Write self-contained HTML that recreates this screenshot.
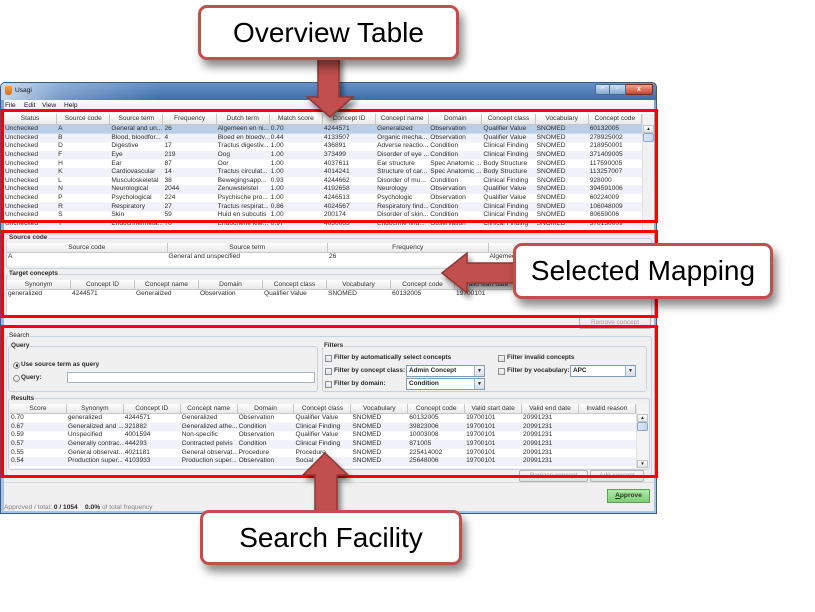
<!DOCTYPE html>
<html><head><meta charset="utf-8">
<style>
*{margin:0;padding:0;box-sizing:border-box}
html,body{width:815px;height:612px;overflow:hidden;background:#fff;font-family:"Liberation Sans",Arial,sans-serif}
.a{position:absolute}
.g{display:grid;position:absolute;overflow:hidden;grid-auto-rows:8.63px}
.g span{font-size:6.6px;line-height:8.63px;padding-left:1px;white-space:nowrap;overflow:hidden;color:#2e2e2e}
.h{display:grid;position:absolute;background:linear-gradient(#fdfdfd,#e9e9e9);border-bottom:1px solid #c8c8c8;overflow:hidden}
.h span{font-size:6.6px;line-height:10px;text-align:center;border-right:1px solid #c6c6c6;white-space:nowrap;overflow:hidden;color:#333}
.red{position:absolute;border:3px solid #f00}
.co{position:absolute;background:#fff;border:3px solid #c0504d;border-radius:9px;box-shadow:4px 7px 9px rgba(0,0,0,.45);text-align:center;font-size:28px;line-height:50px;color:#000;white-space:nowrap}
.lb{position:absolute;font-size:6.4px;font-weight:bold;color:#2a2a2a;line-height:8px;white-space:nowrap}
.gl{background:#f0f0f0;padding:0 1px}
.cb{position:absolute;width:7px;height:7px;border:1px solid #8e8f8f;background:linear-gradient(#f6f6f6,#dfe3e8)}
.rb{position:absolute;width:7px;height:7px;border:1px solid #8e8f8f;border-radius:50%;background:linear-gradient(#f8f8f8,#dde2e7)}
.gb{position:absolute;border:1px solid #c9d1db;border-radius:3px}
.combo{position:absolute;background:#fff;border:1px solid #7f9db9;font-size:6.4px;font-weight:bold;line-height:10px;padding-left:2px;color:#222;white-space:nowrap}
.combo i{position:absolute;right:0;top:0;width:10px;height:10px;background:linear-gradient(#f4f6f9,#d8dee6);border-left:1px solid #a8b8c8;font-style:normal;font-size:5px;line-height:10px;text-align:center;color:#222}
.btn{position:absolute;border:1px solid #b3b3b3;background:linear-gradient(#f7f7f7,#e1e1e1);font-size:6.4px;line-height:10px;text-align:center;color:#a0a0a0;white-space:nowrap;border-radius:2px}
.sb{position:absolute;background:#f1f1f1;border-left:1px solid #e0e0e0}
.sb .ar{position:absolute;left:0;width:11px;height:8px;background:linear-gradient(#fafafa,#e4e4e4);border:1px solid #c4c4c4;font-size:4.5px;line-height:6px;text-align:center;color:#222}
.sb .th{position:absolute;left:0;width:11px;height:9px;background:linear-gradient(to right,#dbe8f6,#c2d6ee);border:1px solid #8aa6c8;border-radius:2px}
</style></head><body>

<!-- Window frame -->
<div class="a" style="left:0;top:82px;width:657px;height:432px;background:linear-gradient(to bottom,#5a89c3 0,#7ea6d6 20px,#a8c6e8 100%);border:1px solid #3a5b82;border-radius:5px 5px 0 0"></div>
<div class="a" style="left:1px;top:83px;width:655px;height:17px;border-radius:4px 4px 0 0;background:linear-gradient(to right,rgba(220,234,248,.85) 0,rgba(220,234,248,.35) 60px,rgba(220,234,248,0) 160px),linear-gradient(#6592c9,#3f6ca7)"></div>
<div class="a" style="left:5px;top:86px;width:7px;height:9px;background:linear-gradient(#f7a43a,#d8691a);border-radius:1px 1px 3px 3px"></div>
<div class="a" style="left:15px;top:87px;font-size:6.6px;line-height:8px;color:#111">Usagi</div>
<div class="a" style="left:595px;top:84px;width:15px;height:11px;background:linear-gradient(#cfe0f2,#86a9d3);border:1px solid #47678e;border-radius:0 0 0 3px;font-size:7px;line-height:8px;text-align:center;color:#fff;font-weight:bold">–</div>
<div class="a" style="left:610px;top:84px;width:16px;height:11px;background:linear-gradient(#cfe0f2,#86a9d3);border:1px solid #47678e;border-left:0;font-size:6px;line-height:9px;text-align:center;color:#fff">▫</div>
<div class="a" style="left:626px;top:84px;width:27px;height:11px;background:linear-gradient(#eba493,#c8452f);border:1px solid #7a2a1e;border-left:0;border-radius:0 0 3px 0;font-size:7px;line-height:9px;text-align:center;color:#fff;font-weight:bold">x</div>

<!-- Client area -->
<div class="a" style="left:4px;top:100px;width:650px;height:411px;background:#f0f0f0"></div>
<div class="a" style="left:4px;top:100px;width:650px;height:10px;background:linear-gradient(#fbfbfc,#eceff3)"></div>
<div class="a" style="left:5px;top:102px;font-size:6.6px;line-height:8px;color:#111;word-spacing:0">File</div>
<div class="a" style="left:24px;top:102px;font-size:6.6px;line-height:8px;color:#111">Edit</div>
<div class="a" style="left:42px;top:102px;font-size:6.6px;line-height:8px;color:#111">View</div>
<div class="a" style="left:64px;top:102px;font-size:6.6px;line-height:8px;color:#111">Help</div>

<!-- Overview table -->
<div class="a" style="left:4px;top:112px;width:650px;height:118px;background:#fff"></div>
<div class="h" style="left:4px;top:114px;width:638px;height:11px;grid-template-columns:repeat(12,53.17px)">
<span>Status</span><span>Source code</span><span>Source term</span><span>Frequency</span><span>Dutch term</span><span>Match score</span><span>Concept ID</span><span>Concept name</span><span>Domain</span><span>Concept class</span><span>Vocabulary</span><span>Concept code</span>
</div>
<div class="g" style="left:4px;top:125px;width:638px;height:105px;grid-template-columns:repeat(12,53.17px);background:linear-gradient(#b9cfe7,#b9cfe7) 0 0/100% 8.63px no-repeat,repeating-linear-gradient(#fff 0 8.63px,#f1f1f9 8.63px 17.26px)">
<span>Unchecked</span><span>A</span><span>General and un...</span><span>26</span><span>Algemeen en ni...</span><span>0.70</span><span>4244571</span><span>Generalized</span><span>Observation</span><span>Qualifier Value</span><span>SNOMED</span><span>60132005</span>
<span>Unchecked</span><span>B</span><span>Blood, bloodfor...</span><span>4</span><span>Bloed en bloedv...</span><span>0.44</span><span>4133507</span><span>Organic mecha...</span><span>Observation</span><span>Qualifier Value</span><span>SNOMED</span><span>278925002</span>
<span>Unchecked</span><span>D</span><span>Digestive</span><span>17</span><span>Tractus digestiv...</span><span>1.00</span><span>436891</span><span>Adverse reactio...</span><span>Condition</span><span>Clinical Finding</span><span>SNOMED</span><span>218950001</span>
<span>Unchecked</span><span>F</span><span>Eye</span><span>219</span><span>Oog</span><span>1.00</span><span>373499</span><span>Disorder of eye ...</span><span>Condition</span><span>Clinical Finding</span><span>SNOMED</span><span>371409005</span>
<span>Unchecked</span><span>H</span><span>Ear</span><span>87</span><span>Oor</span><span>1.00</span><span>4037611</span><span>Ear structure</span><span>Spec Anatomic ...</span><span>Body Structure</span><span>SNOMED</span><span>117590005</span>
<span>Unchecked</span><span>K</span><span>Cardiovascular</span><span>14</span><span>Tractus circulat...</span><span>1.00</span><span>4014241</span><span>Structure of car...</span><span>Spec Anatomic ...</span><span>Body Structure</span><span>SNOMED</span><span>113257007</span>
<span>Unchecked</span><span>L</span><span>Musculoskeletal</span><span>38</span><span>Bewegingsapp...</span><span>0.93</span><span>4244662</span><span>Disorder of mu...</span><span>Condition</span><span>Clinical Finding</span><span>SNOMED</span><span>928000</span>
<span>Unchecked</span><span>N</span><span>Neurological</span><span>2044</span><span>Zenuwstelstel</span><span>1.00</span><span>4192658</span><span>Neurology</span><span>Observation</span><span>Qualifier Value</span><span>SNOMED</span><span>394591006</span>
<span>Unchecked</span><span>P</span><span>Psychological</span><span>224</span><span>Psychische pro...</span><span>1.00</span><span>4246513</span><span>Psychologic</span><span>Observation</span><span>Qualifier Value</span><span>SNOMED</span><span>60224009</span>
<span>Unchecked</span><span>R</span><span>Respiratory</span><span>27</span><span>Tractus respirat...</span><span>0.86</span><span>4024567</span><span>Respiratory find...</span><span>Condition</span><span>Clinical Finding</span><span>SNOMED</span><span>106048009</span>
<span>Unchecked</span><span>S</span><span>Skin</span><span>59</span><span>Huid en subcutis</span><span>1.00</span><span>200174</span><span>Disorder of skin...</span><span>Condition</span><span>Clinical Finding</span><span>SNOMED</span><span>80659006</span>
<span>Unchecked</span><span>T</span><span>Endocrine/meta...</span><span>70</span><span>Endocriene klie...</span><span>0.97</span><span>4030063</span><span>Endocrine find...</span><span>Observation</span><span>Clinical Finding</span><span>SNOMED</span><span>370130009</span>
</div>
<div class="sb" style="left:642px;top:114px;width:12px;height:116px">
<div class="ar" style="top:11px">▲</div>
<div class="th" style="top:19px"></div>
</div>

<!-- Selected mapping panel -->
<div class="a" style="left:4px;top:232px;width:650px;height:3px;background:#d6dde6"></div>
<div class="gb" style="left:6px;top:238px;width:646px;height:31px"></div>
<div class="lb" style="left:8px;top:234px"><span class="gl">Source code</span></div>
<div class="h" style="left:7px;top:243px;width:644px;height:10px;grid-template-columns:repeat(4,160.5px)">
<span>Source code</span><span>Source term</span><span>Frequency</span><span>Dutch term</span>
</div>
<div class="g" style="left:7px;top:253px;width:644px;height:13px;grid-template-columns:repeat(4,160.5px);background:#fff">
<span>A</span><span>General and unspecified</span><span>26</span><span>Algemeen en niet gespecificeerd</span>
</div>
<div class="gb" style="left:6px;top:274px;width:646px;height:43px"></div>
<div class="lb" style="left:8px;top:270px"><span class="gl">Target concepts</span></div>
<div class="h" style="left:7px;top:280px;width:644px;height:10px;grid-template-columns:repeat(10,64px)">
<span>Synonym</span><span>Concept ID</span><span>Concept name</span><span>Domain</span><span>Concept class</span><span>Vocabulary</span><span>Concept code</span><span>Valid start date</span><span>Valid end date</span><span>Invalid reason</span>
</div>
<div class="g" style="left:7px;top:290px;width:644px;height:26px;grid-template-columns:repeat(10,64px);background:#fff">
<span>generalized</span><span>4244571</span><span>Generalized</span><span>Observation</span><span>Qualifier Value</span><span>SNOMED</span><span>60132005</span><span>19700101</span><span>20991231</span><span></span>
</div>
<div class="btn" style="left:579px;top:316px;width:72px;height:13px;line-height:11px">Remove concept</div>

<!-- Search panel -->
<div class="gb" style="left:6px;top:336px;width:646px;height:140px"></div>
<div class="lb" style="left:8px;top:332px;font-weight:normal;color:#222"><span class="gl">Search</span></div>
<div class="gb" style="left:8px;top:346px;width:310px;height:46px"></div>
<div class="lb" style="left:10px;top:342px"><span class="gl">Query</span></div>
<div class="rb" style="left:13px;top:361.5px"><div style="position:absolute;left:1.5px;top:1.5px;width:2.5px;height:2.5px;border-radius:50%;background:#333"></div></div>
<div class="lb" style="left:21px;top:361px">Use source term as query</div>
<div class="rb" style="left:13px;top:374.5px"></div>
<div class="lb" style="left:21px;top:374px">Query:</div>
<div class="a" style="left:67px;top:372px;width:248px;height:11px;background:#fff;border:1px solid #a9b4c0"></div>

<div class="gb" style="left:322px;top:346px;width:325px;height:46px"></div>
<div class="lb" style="left:323px;top:342px"><span class="gl">Filters</span></div>
<div class="cb" style="left:325px;top:354.5px"></div>
<div class="lb" style="left:334px;top:354px">Filter by automatically select concepts</div>
<div class="cb" style="left:325px;top:367.5px"></div>
<div class="lb" style="left:334px;top:367px">Filter by concept class:</div>
<div class="combo" style="left:406px;top:365px;width:79px;height:12px">Admin Concept<i>▼</i></div>
<div class="cb" style="left:325px;top:380.5px"></div>
<div class="lb" style="left:334px;top:380px">Filter by domain:</div>
<div class="combo" style="left:406px;top:378px;width:79px;height:12px">Condition<i>▼</i></div>
<div class="cb" style="left:498px;top:354.5px"></div>
<div class="lb" style="left:507px;top:354px">Filter invalid concepts</div>
<div class="cb" style="left:498px;top:367.5px"></div>
<div class="lb" style="left:507px;top:367px">Filter by vocabulary:</div>
<div class="combo" style="left:570px;top:365px;width:66px;height:12px">APC<i>▼</i></div>

<div class="gb" style="left:8px;top:398px;width:642px;height:72px"></div>
<div class="lb" style="left:10px;top:394.5px"><span class="gl">Results</span></div>
<div class="h" style="left:10px;top:404px;width:626px;height:10px;grid-template-columns:repeat(11,56.9px)">
<span>Score</span><span>Synonym</span><span>Concept ID</span><span>Concept name</span><span>Domain</span><span>Concept class</span><span>Vocabulary</span><span>Concept code</span><span>Valid start date</span><span>Valid end date</span><span>Invalid reason</span>
</div>
<div class="g" style="left:10px;top:414px;width:626px;height:54px;grid-template-columns:repeat(11,56.9px);background:repeating-linear-gradient(#fff 0 8.63px,#f1f1f9 8.63px 17.26px)">
<span>0.70</span><span>generalized</span><span>4244571</span><span>Generalized</span><span>Observation</span><span>Qualifier Value</span><span>SNOMED</span><span>60132005</span><span>19700101</span><span>20991231</span><span></span>
<span>0.67</span><span>Generalized and ...</span><span>321882</span><span>Generalized athe...</span><span>Condition</span><span>Clinical Finding</span><span>SNOMED</span><span>39823006</span><span>19700101</span><span>20991231</span><span></span>
<span>0.59</span><span>Unspecified</span><span>4001594</span><span>Non-specific</span><span>Observation</span><span>Qualifier Value</span><span>SNOMED</span><span>10003008</span><span>19700101</span><span>20991231</span><span></span>
<span>0.57</span><span>Generally contrac...</span><span>444293</span><span>Contracted pelvis</span><span>Condition</span><span>Clinical Finding</span><span>SNOMED</span><span>871005</span><span>19700101</span><span>20991231</span><span></span>
<span>0.55</span><span>General observat...</span><span>4021181</span><span>General observat...</span><span>Procedure</span><span>Procedure</span><span>SNOMED</span><span>225414002</span><span>19700101</span><span>20991231</span><span></span>
<span>0.54</span><span>Production super...</span><span>4103933</span><span>Production super...</span><span>Observation</span><span>Social ...</span><span>SNOMED</span><span>25648006</span><span>19700101</span><span>20991231</span><span></span>
</div>
<div class="sb" style="left:636px;top:404px;width:12px;height:64px;background:#f4f4f4">
<div class="ar" style="top:10px">▲</div>
<div class="th" style="top:18px"></div>
<div class="ar" style="top:56px">▼</div>
</div>
<div class="btn" style="left:519px;top:470px;width:69px;height:12px">Replace concept</div>
<div class="btn" style="left:590px;top:470px;width:54px;height:12px">Add concept</div>

<div class="a" style="left:4px;top:482px;width:650px;height:1px;background:#dcdcdc"></div>
<div class="a" style="left:607px;top:489px;width:43px;height:14px;background:linear-gradient(#b0e8a8,#7fcf78);border:1px solid #5e9e5a;font-size:6.6px;font-weight:bold;line-height:12px;text-align:center;color:#1d3a1d"><u>A</u>pprove</div>
<div class="a" style="left:4px;top:503.5px;font-size:6.6px;line-height:8px;color:#808080;white-space:nowrap">Approved / total: <b style="color:#262626">0 / 1054</b>&nbsp;&nbsp;&nbsp; <b style="color:#262626">0.0%</b> of total frequency</div>

<!-- Red highlight rectangles -->
<div class="red" style="left:1px;top:109px;width:657px;height:114px"></div>
<div class="red" style="left:1px;top:230px;width:657px;height:88px"></div>
<div class="red" style="left:1px;top:325px;width:657px;height:153px"></div>

<!-- Arrows -->
<svg class="a" style="left:0;top:0" width="815" height="612">
<defs>
<filter id="sh" x="-50%" y="-50%" width="200%" height="200%">
<feGaussianBlur in="SourceAlpha" stdDeviation="3"/>
<feOffset dx="3" dy="5" result="o"/>
<feComponentTransfer><feFuncA type="linear" slope="0.5"/></feComponentTransfer>
<feMerge><feMergeNode/><feMergeNode in="SourceGraphic"/></feMerge>
</filter>
</defs>
<g filter="url(#sh)" fill="#c0504d" stroke="#8c3836" stroke-width="1.5" stroke-linejoin="miter">
<polygon points="318,55 339,55 339,97 353,97 330,117 307,97 318,97"/>
<polygon points="520,263 467,263 467,253 442,273 467,293 467,283 520,283"/>
<polygon points="315,515 315,475 303,475 325,453 348,475 337,475 337,515"/>
</g>
</svg>

<!-- Callouts -->
<div class="co" style="left:198px;top:5px;width:261px;height:55px">Overview Table</div>
<div class="co" style="left:513px;top:243px;width:260px;height:56px">Selected Mapping</div>
<div class="co" style="left:200px;top:510px;width:262px;height:55px">Search Facility</div>

</body></html>
